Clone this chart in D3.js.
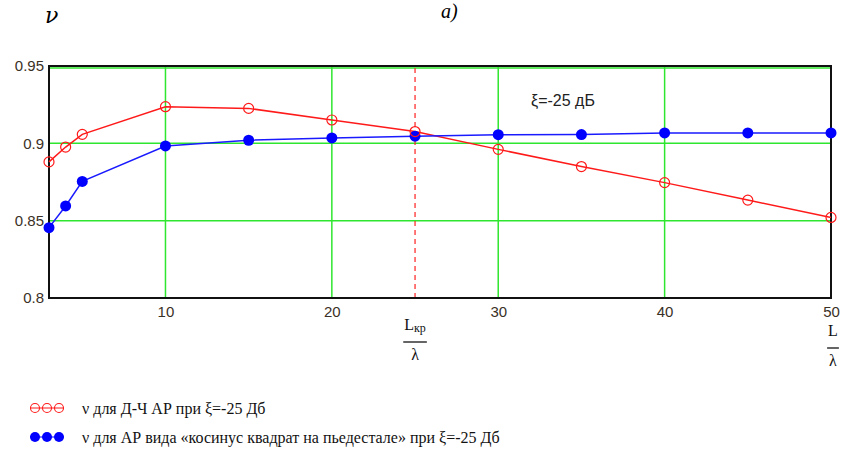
<!DOCTYPE html>
<html>
<head>
<meta charset="utf-8">
<script src="https://cdn.jsdelivr.net/npm/d3@7"></script>
<style>
  body { margin: 0; background: #fff; }
  svg { display: block; }
</style>
</head>
<body>
<div id="chart"></div>
<script>
// Data
const xValues = [3, 4, 5, 10, 15, 20, 25, 30, 35, 40, 45, 50];
const redValues = [0.888, 0.8976, 0.9058, 0.9237, 0.9226, 0.9151, 0.9076, 0.8961, 0.885, 0.8746, 0.8633, 0.8521];
const blueValues = [0.8455, 0.8595, 0.8754, 0.8983, 0.902, 0.9035, 0.9046, 0.9056, 0.9057, 0.9067, 0.9067, 0.9067];
const xTicks = [10, 20, 30, 40, 50];
const yTicks = [0.8, 0.85, 0.9, 0.95];
const critical = 25;
const legendLabels = [
  'ν для Д-Ч АР при  ξ=-25 Дб',
  'ν для АР вида «косинус квадрат на пьедестале» при ξ=-25 Дб'
];

// Dimensions and margins
const W = 848, H = 452;
const margin = { top: 66, right: 17, bottom: 154, left: 49 };
const width = W - margin.left - margin.right;
const height = H - margin.top - margin.bottom;

const x = d3.scaleLinear().domain([3, 50]).range([0, width]);
const y = d3.scaleLinear().domain([0.8, 0.95]).range([height, 0]);

const svg = d3.select('#chart').append('svg')
    .attr('width', W)
    .attr('height', H);

const serif = "'Liberation Serif', 'Times New Roman', serif";

// Title and y label
svg.append('text')
    .attr('x', 441).attr('y', 18)
    .attr('font-family', serif)
    .attr('font-style', 'italic')
    .attr('font-size', 20)
    .text('a)');

svg.append('text')
    .attr('x', 45).attr('y', 23)
    .attr('font-family', 'DejaVu Serif')
    .attr('font-style', 'italic')
    .attr('font-size', 22)
    .text('ν');

const g = svg.append('g')
    .attr('transform', `translate(${margin.left},${margin.top})`);

// Grid
const grid = '#2ee62e';
g.selectAll('.vgrid')
    .data(xTicks.filter(d => d < 50))
    .join('line')
    .attr('x1', d => x(d)).attr('x2', d => x(d))
    .attr('y1', 0).attr('y2', height)
    .attr('stroke', grid).attr('stroke-width', 1.5);

g.selectAll('.hgrid')
    .data(yTicks.filter(d => d > 0.8))
    .join('line')
    .attr('x1', 0).attr('x2', width)
    .attr('y1', d => y(d) + (d === 0.95 ? 2 : 0)).attr('y2', d => y(d) + (d === 0.95 ? 2 : 0))
    .attr('stroke', grid).attr('stroke-width', 1.5);

// Critical length marker
g.append('line')
    .attr('x1', x(critical)).attr('x2', x(critical))
    .attr('y1', 2).attr('y2', height)
    .attr('stroke', '#ff2020').attr('stroke-width', 1.2)
    .attr('stroke-dasharray', '5,4');

// Frame
g.append('rect')
    .attr('width', width).attr('height', height)
    .attr('fill', 'none')
    .attr('stroke', '#111').attr('stroke-width', 2);

// Axes
const tickFont = 'Liberation Sans';
const yAxis = g.append('g')
    .call(d3.axisLeft(y).tickValues(yTicks).tickSize(0).tickPadding(5).tickFormat(d => String(+d.toFixed(2))));
yAxis.select('.domain').remove();
yAxis.selectAll('text')
    .attr('font-family', tickFont).attr('font-size', 15).attr('fill', '#3a3026');

const xAxis = g.append('g')
    .attr('transform', `translate(0,${height})`)
    .call(d3.axisBottom(x).tickValues(xTicks).tickSize(0).tickPadding(8));
xAxis.select('.domain').remove();
xAxis.selectAll('text')
    .attr('font-family', tickFont).attr('font-size', 15).attr('fill', '#3a3026');

// Fraction labels under the x axis
function fraction(cx, top, num, sub) {
  const t = svg.append('text')
      .attr('x', cx).attr('y', top)
      .attr('text-anchor', 'middle')
      .attr('font-family', serif)
      .attr('font-size', 16)
      .attr('fill', '#111');
  t.append('tspan').text(num);
  if (sub) t.append('tspan').attr('font-size', 12).attr('dy', 2).text(sub);
  const bb = t.node().getBBox();
  svg.append('line')
      .attr('x1', bb.x - 1).attr('x2', bb.x + bb.width + 1)
      .attr('y1', top + 12).attr('y2', top + 12)
      .attr('stroke', '#111').attr('stroke-width', 1.3);
  svg.append('text')
      .attr('x', bb.x + bb.width / 2).attr('y', top + 30)
      .attr('text-anchor', 'middle')
      .attr('font-family', serif)
      .attr('font-size', 16)
      .attr('fill', '#111')
      .text('λ');
}
fraction(margin.left + x(critical), margin.top + height + 32, 'L', 'кр');
fraction(margin.left + x(50) + 2, margin.top + height + 38, 'L', null);

// Lines
const line = d3.line().x(d => x(d[0])).y(d => y(d[1]));
const redData = xValues.map((v, i) => [v, redValues[i]]);
const blueData = xValues.map((v, i) => [v, blueValues[i]]);

g.append('path')
    .attr('d', line(redData))
    .attr('fill', 'none').attr('stroke', '#ff1a1a').attr('stroke-width', 1.5);
g.append('path')
    .attr('d', line(blueData))
    .attr('fill', 'none').attr('stroke', '#1a1aff').attr('stroke-width', 1.5);

g.selectAll('.bdot')
    .data(blueData)
    .join('circle')
    .attr('cx', d => x(d[0])).attr('cy', d => y(d[1]))
    .attr('r', 5.5).attr('fill', '#0000ff');

g.selectAll('.rdot')
    .data(redData)
    .join('circle')
    .attr('cx', d => x(d[0])).attr('cy', d => y(d[1]))
    .attr('r', 5).attr('fill', 'none')
    .attr('stroke', '#ff1a1a').attr('stroke-width', 1.2);

// Annotation
svg.append('text')
    .attr('x', 531).attr('y', 106)
    .attr('font-family', 'Liberation Sans')
    .attr('font-size', 16)
    .attr('fill', '#222')
    .text('ξ=-25 дБ');

// Legend
const legend = svg.append('g');
legendLabels.forEach((label, i) => {
  const ly = 408 + i * 29;
  const row = legend.append('g');
  [0, 1, 2].forEach(k => {
    const cx = 35 + k * 12;
    if (i === 0) {
      row.append('circle').attr('cx', cx).attr('cy', ly).attr('r', 4.5)
          .attr('fill', 'none').attr('stroke', '#ff1a1a').attr('stroke-width', 1.1);
    } else {
      row.append('circle').attr('cx', cx).attr('cy', ly).attr('r', 5)
          .attr('fill', '#0000ff');
    }
  });
  row.append('line').attr('x1', 30).attr('x2', 64).attr('y1', ly).attr('y2', ly)
      .attr('stroke', i === 0 ? '#ff1a1a' : '#0000ff').attr('stroke-width', 1);
  row.append('text')
      .attr('x', 82).attr('y', ly + 6)
      .attr('font-family', serif)
      .attr('font-size', 16)
      .attr('fill', '#111')
      .text(label);
});
</script>
</body>
</html>
